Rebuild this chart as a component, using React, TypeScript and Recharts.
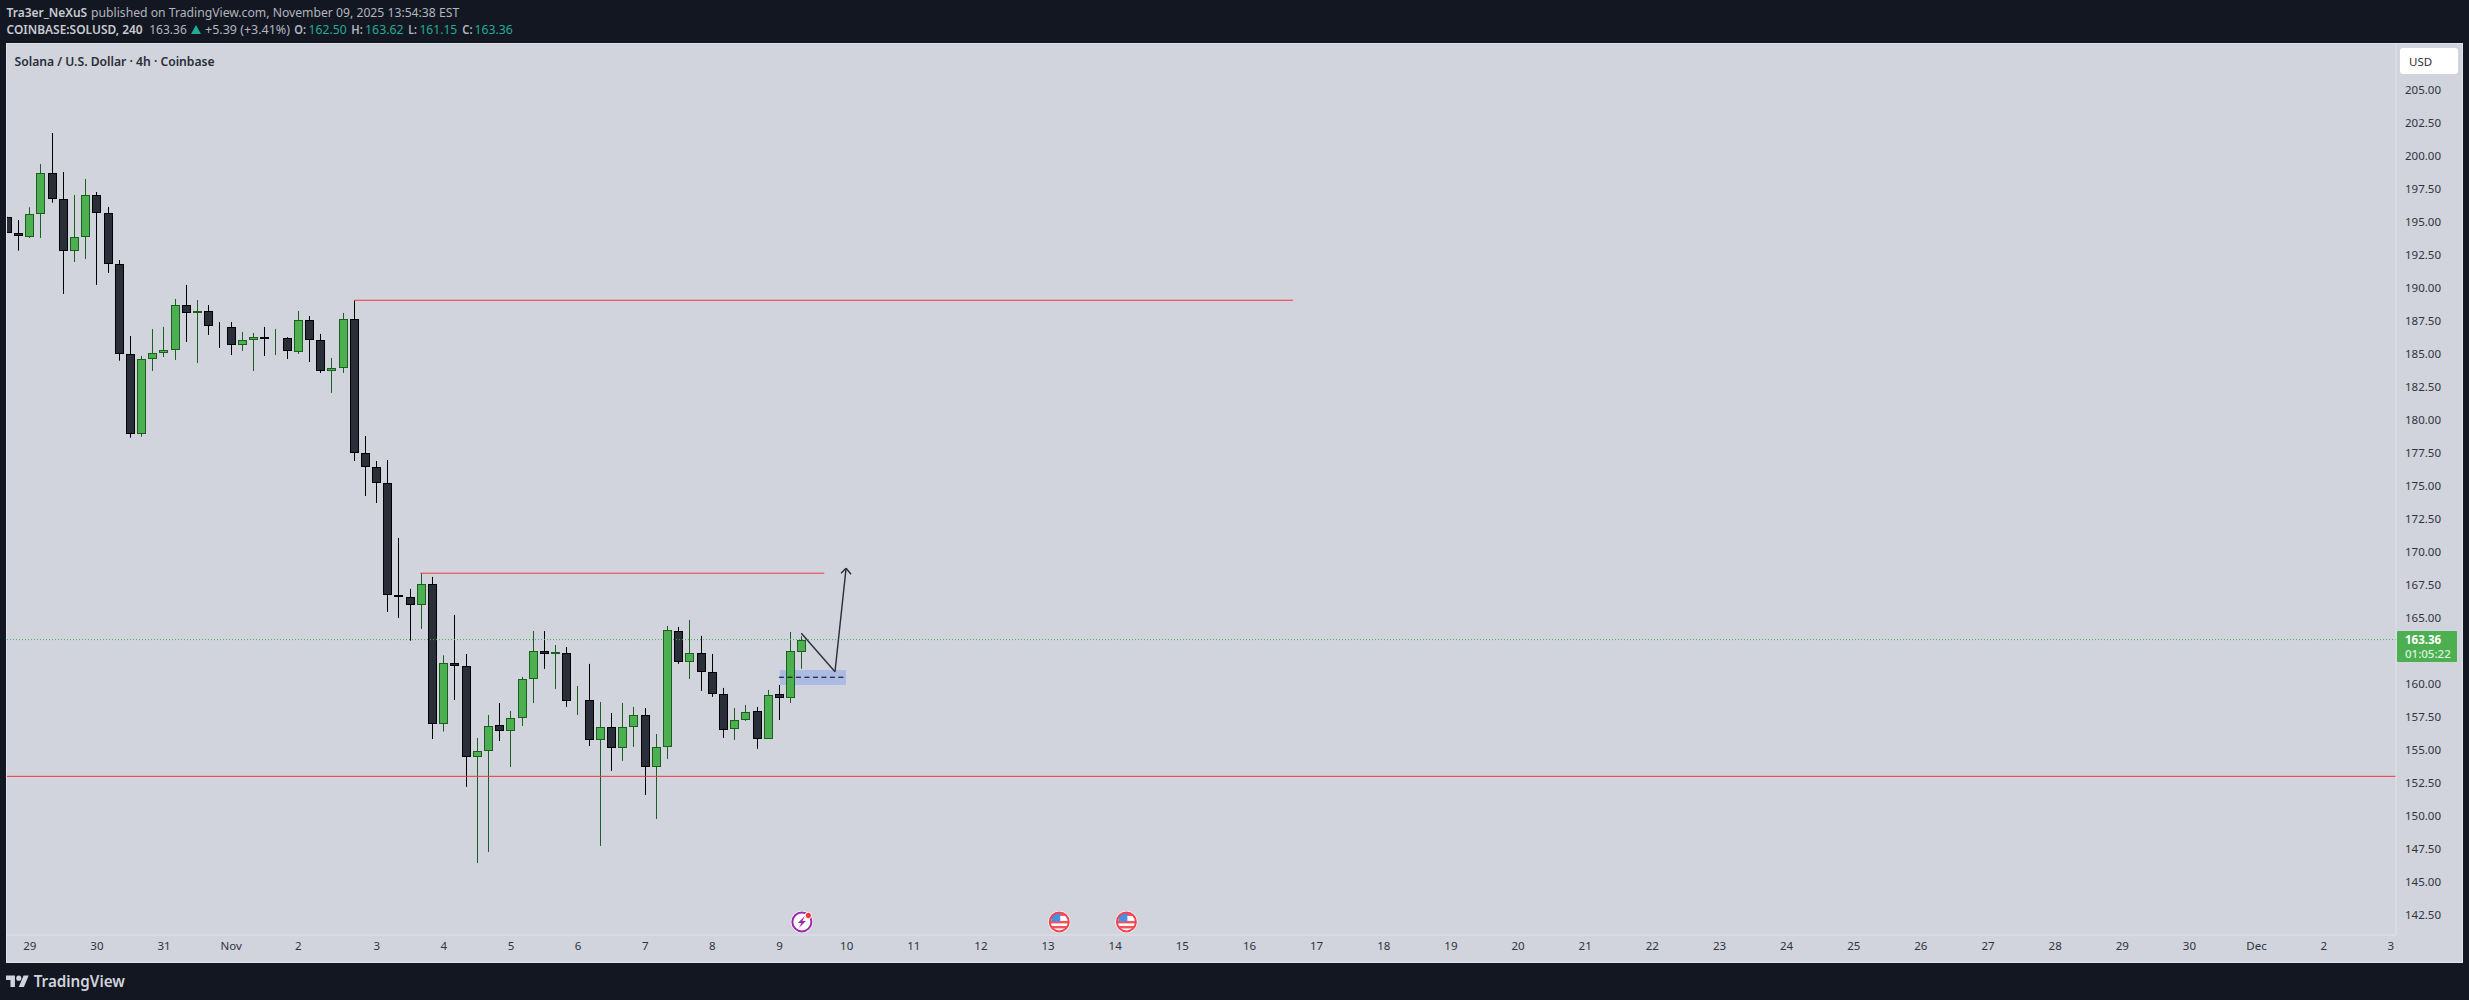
import React from 'react'
import { ComposedChart, Bar, XAxis, YAxis, ReferenceLine, ReferenceArea, ReferenceDot } from 'recharts'

// 4h candles, oldest first
const opens = [195.39, 194.18, 193.92, 195.67, 198.73, 196.76, 192.86, 193.92, 197.06, 195.70, 191.83, 185.01, 179.00, 184.68, 185.14, 185.36, 188.73, 188.17, 188.27, 187.11, 187.06, 185.74, 186.15, 186.30, 186.20, 186.23, 185.21, 187.59, 186.08, 183.80, 184.00, 187.67, 177.52, 176.45, 175.24, 166.76, 166.61, 166.06, 167.59, 157.06, 161.61, 161.38, 154.53, 154.98, 156.91, 156.50, 157.48, 160.44, 162.51, 162.38, 162.36, 158.83, 158.80, 155.82, 156.76, 155.21, 156.80, 157.67, 153.77, 155.29, 164.03, 161.73, 162.36, 160.92, 159.26, 156.65, 157.33, 157.97, 155.89, 159.26, 159.00, 162.50]
const highs = [195.39, 195.15, 196.11, 199.39, 201.74, 198.79, 197.05, 198.26, 197.27, 196.14, 192.12, 186.36, 184.85, 186.89, 187.05, 189.17, 190.23, 189.09, 188.71, 187.42, 187.42, 186.67, 186.59, 187.05, 186.89, 186.27, 188.26, 187.88, 186.52, 184.70, 188.11, 189.07, 178.79, 176.89, 176.97, 171.06, 167.20, 168.39, 168.11, 162.17, 165.23, 162.27, 155.91, 157.65, 158.56, 157.95, 160.53, 164.01, 164.01, 162.95, 162.80, 159.85, 161.52, 158.64, 157.80, 158.56, 158.26, 158.18, 156.21, 164.39, 164.32, 164.85, 163.64, 162.27, 159.70, 158.18, 158.41, 158.26, 159.55, 159.92, 163.94, 163.62]
const lows = [194.23, 192.83, 193.79, 193.79, 196.46, 189.55, 191.97, 192.20, 190.23, 191.14, 184.49, 178.66, 178.73, 183.71, 184.77, 184.55, 185.91, 184.32, 186.44, 185.45, 184.92, 185.23, 183.71, 184.85, 184.92, 184.62, 185.00, 184.39, 183.56, 182.05, 183.56, 176.89, 174.24, 173.71, 165.45, 165.00, 163.28, 164.17, 155.83, 156.39, 158.79, 152.20, 146.44, 147.27, 155.68, 153.71, 156.82, 158.56, 161.14, 159.62, 158.26, 157.65, 155.30, 147.73, 153.41, 154.17, 155.23, 151.59, 149.77, 154.32, 161.52, 160.38, 159.47, 159.02, 155.91, 155.76, 157.20, 155.08, 155.86, 157.27, 158.56, 161.15]
const closes = [194.23, 194.00, 195.62, 198.73, 196.80, 192.86, 193.88, 197.06, 195.74, 191.88, 185.06, 179.00, 184.64, 185.09, 185.27, 188.73, 188.17, 188.27, 187.18, 187.10, 185.74, 186.08, 186.30, 186.20, 186.23, 185.29, 187.59, 186.15, 183.80, 183.95, 187.67, 177.59, 176.50, 175.29, 166.80, 166.65, 166.06, 167.59, 157.06, 161.61, 161.42, 154.53, 154.94, 156.83, 156.50, 157.44, 160.39, 162.51, 162.33, 162.39, 158.77, 158.84, 155.82, 156.76, 155.21, 156.76, 157.67, 153.77, 155.24, 164.11, 161.73, 162.36, 160.97, 159.30, 156.58, 157.29, 157.89, 155.89, 159.18, 159.00, 162.51, 163.36]

const dayTicks = [2, 8, 14, 20, 26, 33, 39, 45, 51, 57, 63, 69, 75, 81, 87, 93, 99, 105, 111, 117, 123, 129, 135, 141, 147, 153, 159, 165, 171, 177, 183, 189, 195, 201, 207, 213]
const dayLabels = ['29', '30', '31', 'Nov', '2', '3', '4', '5', '6', '7', '8', '9', '10', '11', '12', '13', '14', '15', '16', '17', '18', '19', '20', '21', '22', '23', '24', '25', '26', '27', '28', '29', '30', 'Dec', '2', '3']
// 162.50 sits under the last price tag, so the axis leaves it out
const priceTicks = [142.5, 145, 147.5, 150, 152.5, 155, 157.5, 160, 165, 167.5, 170, 172.5, 175, 177.5, 180, 182.5, 185, 187.5, 190, 192.5, 195, 197.5, 200, 202.5, 205]

// drawings on the chart: [bar index, price]
const resistanceHigh = [[31, 189.07], [114.9, 189.07]]
const resistanceLow = [[36.9, 168.39], [73, 168.39]]
const supportPrice = 153
const lastPrice = 163.36
const arrowPath = [[70.95, 163.84], [73.96, 160.93], [74.95, 168.77]]
const arrowHead = [[74.5, 168.39], [74.95, 168.77], [75.39, 168.31]]
const zoneBox = [69.04, 74.94, 159.92, 161.06]
const zoneDash = [[68.95, 160.51], [74.94, 160.51]]
const boltEvents = [71]
const flagEvents = [94, 100]
const eventPrice = 141.97

const data = opens.map((open, i) => ({ i, open, high: highs[i], low: lows[i], close: closes[i] }))

const FONT = '"Noto Sans", sans-serif'
const AXIS_TEXT = '#2f333e'
const FRAME = '#e0e3eb'
const teal = '#22ab94'
const grey = '#b2b5be'
const greyBold = '#c8cad1'

// page texts: [left, right, baseline, text, colour, weight, size]
const pageTexts: [number, number, number, string, string, number, number][] = [
  [6.5, 87.2, 17, 'Tra3er_NeXuS', greyBold, 600, 12.4],
  [91, 459.2, 17, 'published on TradingView.com, November 09, 2025 13:54:38 EST', grey, 400, 12.4],
  [6.5, 142.7, 34, 'COINBASE:SOLUSD, 240', greyBold, 600, 12.4],
  [149.2, 186.8, 34, '163.36', grey, 400, 12.4],
  [205, 290, 34, '+5.39 (+3.41%)', grey, 400, 12.4],
  [294.3, 306, 34, 'O:', grey, 600, 12.4],
  [308.5, 346.7, 34, '162.50', teal, 400, 12.4],
  [351.3, 362.8, 34, 'H:', grey, 600, 12.4],
  [365, 403.7, 34, '163.62', teal, 400, 12.4],
  [408.3, 417, 34, 'L:', grey, 600, 12.4],
  [419.4, 457.3, 34, '161.15', teal, 400, 12.4],
  [462.3, 472.6, 34, 'C:', grey, 600, 12.4],
  [474.5, 512.8, 34, '163.36', teal, 400, 12.4],
  [14.5, 214.7, 65.5, 'Solana / U.S. Dollar · 4h · Coinbase', '#2a2e39', 600, 13],
  [33.7, 125, 987, 'TradingView', '#d1d4dc', 600, 16],
]

const Candle = (props: any) => {
  const { x, y, width, height, payload } = props
  const { open, high, low, close } = payload
  const yOf = (v: number) => y + ((high - v) / (high - low)) * height
  const up = close >= open
  const cx = Math.floor(x + width / 2) + 0.5
  const top = Math.round(yOf(Math.max(open, close))) + 0.5
  const bottom = Math.round(yOf(Math.min(open, close))) + 0.5
  const edge = up ? '#1b5e20' : '#000000'
  return (
    <g>
      <line x1={cx} x2={cx} y1={y} y2={y + height} stroke={edge} strokeWidth={1} />
      <rect x={cx - 4} y={top} width={8} height={Math.max(bottom - top, 0)} fill={up ? '#4caf50' : '#2a2e39'} stroke={edge} strokeWidth={1} />
    </g>
  )
}

const FlagIcon = (props: any) => {
  const { cx, cy } = props
  const id = `flag-${Math.round(cx)}`
  return (
    <g>
      <circle cx={cx} cy={cy} r={11} fill="#ffffff" />
      <clipPath id={id}><circle cx={cx} cy={cy} r={9} /></clipPath>
      <g clipPath={`url(#${id})`}>
        <rect x={cx - 9} y={cy - 1} width={18} height={2.5} fill="#f0555f" />
        <rect x={cx - 9} y={cy + 4} width={18} height={2.5} fill="#f0555f" />
        <rect x={cx - 9} y={cy - 9} width={18} height={3} fill="#f0555f" />
        <rect x={cx - 8} y={cy - 9} width={9} height={8.5} fill="#4a90e2" />
      </g>
      <circle cx={cx} cy={cy} r={9.5} fill="none" stroke="#ef4450" strokeWidth={2} />
    </g>
  )
}

const BoltIcon = (props: any) => {
  const { cx, cy } = props
  return (
    <g>
      <circle cx={cx} cy={cy} r={11} fill="#ffffff" />
      <circle cx={cx} cy={cy} r={9.5} fill="#ffffff" stroke="#9c27b0" strokeWidth={2} />
      <path d={`M${cx + 3} ${cy - 6} L${cx - 4} ${cy + 1} H${cx - 0.5} L${cx - 3} ${cy + 6} L${cx + 4} ${cy - 1} H${cx + 0.5} Z`} fill="#9c27b0" />
      <circle cx={cx + 6.5} cy={cy - 6.5} r={3.2} fill="#f23645" stroke="#ffffff" strokeWidth={1} />
    </g>
  )
}

const seg = (pts: number[][]) => pts.slice(1).map((p, k) => [
  { x: pts[k][0], y: pts[k][1] },
  { x: p[0], y: p[1] },
])

const abs = (left: number, top: number, extra: React.CSSProperties = {}): React.CSSProperties => ({
  position: 'absolute', left, top, fontFamily: FONT, whiteSpace: 'nowrap', ...extra,
})

export default function App() {
  return (
    <div style={{ position: 'fixed', left: 0, top: 0, width: 2469, height: 1000, background: '#131722', overflow: 'hidden' }}>
      <div style={{ position: 'absolute', left: 6, top: 43, width: 2457, height: 920, background: '#d1d4dc' }}>
        <ComposedChart width={2457} height={920} data={data} margin={{ top: 0, right: 0, bottom: 0, left: 0 }}>
          <XAxis
            dataKey="i"
            type="number"
            scale="linear"
            domain={[-0.125, 213.46]}
            allowDataOverflow
            ticks={dayTicks}
            interval={0}
            height={28}
            tickLine={false}
            tickSize={0}
            tickMargin={7}
            axisLine={{ stroke: FRAME }}
            tick={{ fontSize: 11.5, fontFamily: FONT, fill: AXIS_TEXT }}
            tickFormatter={(v: number) => dayLabels[dayTicks.indexOf(v)]}
          />
          <YAxis
            orientation="right"
            type="number"
            domain={[140.98, 208.56]}
            allowDataOverflow
            ticks={priceTicks}
            interval={0}
            width={67}
            tickLine={false}
            tickSize={0}
            tickMargin={9}
            axisLine={{ stroke: FRAME }}
            tick={{ fontSize: 11.5, fontFamily: FONT, fill: AXIS_TEXT }}
            tickFormatter={(v: number) => v.toFixed(2)}
          />
          <Bar
            dataKey={(d: any) => [d.low, d.high]}
            barSize={9}
            isAnimationActive={false}
            shape={<Candle />}
          />
          <ReferenceLine y={lastPrice} stroke="#4caf50" strokeWidth={1} strokeDasharray="1 2" />
          <ReferenceLine y={supportPrice} stroke="#f23645" strokeWidth={1} />
          {seg(resistanceHigh).map((s, k) => <ReferenceLine key={`rh${k}`} segment={s} stroke="#f23645" strokeWidth={1} />)}
          {seg(resistanceLow).map((s, k) => <ReferenceLine key={`rl${k}`} segment={s} stroke="#f23645" strokeWidth={1} />)}
          <ReferenceArea x1={zoneBox[0]} x2={zoneBox[1]} y1={zoneBox[2]} y2={zoneBox[3]} fill="#2962ff" fillOpacity={0.22} stroke="none" />
          {seg(zoneDash).map((s, k) => <ReferenceLine key={`zd${k}`} segment={s} stroke="#000000" strokeWidth={1} strokeDasharray="5 3.5" />)}
          {seg(arrowPath).map((s, k) => <ReferenceLine key={`ap${k}`} segment={s} stroke="#2a2e39" strokeWidth={1.4} />)}
          {seg(arrowHead).map((s, k) => <ReferenceLine key={`ah${k}`} segment={s} stroke="#2a2e39" strokeWidth={1.4} />)}
          {boltEvents.map(i => <ReferenceDot key={`b${i}`} x={i} y={eventPrice} shape={<BoltIcon />} />)}
          {flagEvents.map(i => <ReferenceDot key={`f${i}`} x={i} y={eventPrice} shape={<FlagIcon />} />)}
        </ComposedChart>
        <div style={{ position: 'absolute', inset: 0, border: `1px solid ${FRAME}`, pointerEvents: 'none' }} />
      </div>

      <div style={{ position: 'absolute', left: 2400, top: 48, width: 58, height: 26, background: '#ffffff', borderRadius: 3 }} />
      <div style={abs(2409, 53, { fontSize: 11.5, lineHeight: '17px', color: '#2a2e39' })}>USD</div>

      <div style={{ position: 'absolute', left: 2397, top: 631, width: 60, height: 31, background: '#4caf50', borderRadius: 1 }} />
      <div style={abs(2405, 632, { fontSize: 11.5, lineHeight: '15px', fontWeight: 700, color: '#ffffff' })}>163.36</div>
      <div style={abs(2405, 646, { fontSize: 11.5, lineHeight: '15px', fontWeight: 500, color: '#dff1e0' })}>01:05:22</div>

      <svg style={{ position: 'absolute', left: 6, top: 973 }} width={23} height={18} viewBox="0 0 36 28">
        <path d="M14 22H7V11H0V4h14v18zM28 22h-8l7.5-18h8L28 22z" fill="#d1d4dc" />
        <circle cx="20" cy="8" r="4" fill="#d1d4dc" />
      </svg>

      {/* header and footer texts, held to the widths they have in the picture */}
      <svg style={{ position: 'absolute', left: 0, top: 0, pointerEvents: 'none' }} width={2469} height={1000}>
        {pageTexts.map(([left, right, base, text, color, weight, size]) => (
          <text
            key={`${left}-${base}`}
            x={left}
            y={base}
            textLength={right - left}
            lengthAdjust="spacingAndGlyphs"
            fontFamily={FONT}
            fontSize={size}
            fontWeight={weight}
            fill={color}
          >
            {text}
          </text>
        ))}
        <path d="M191 34 L196 25 L201 34 Z" fill={teal} />
      </svg>
    </div>
  )
}
